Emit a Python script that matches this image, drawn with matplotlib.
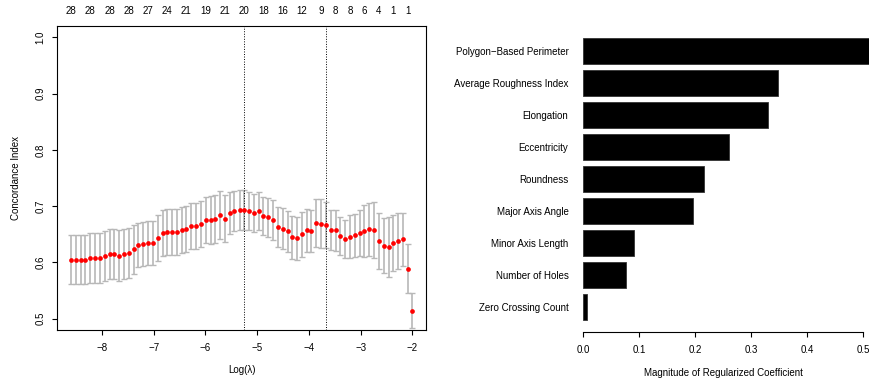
import matplotlib
matplotlib.use("Agg")
import matplotlib.pyplot as plt
import numpy as np

plt.rcParams['font.family'] = ['Liberation Sans', 'DejaVu Sans']

# cross-validation curve (log lambda, mean C-index, its SE)
log_lambda = [-8.60, -8.51, -8.41, -8.32, -8.23, -8.13, -8.04, -7.95, -7.85, -7.76,
              -7.67, -7.58, -7.48, -7.39, -7.30, -7.20, -7.11, -7.02, -6.92, -6.83,
              -6.74, -6.65, -6.55, -6.46, -6.37, -6.27, -6.18, -6.09, -5.99, -5.90,
              -5.81, -5.72, -5.62, -5.53, -5.44, -5.34, -5.25, -5.16, -5.06, -4.97,
              -4.88, -4.79, -4.69, -4.60, -4.51, -4.41, -4.32, -4.23, -4.13, -4.04,
              -3.95, -3.86, -3.76, -3.67, -3.58, -3.48, -3.39, -3.30, -3.20, -3.11,
              -3.02, -2.93, -2.83, -2.74, -2.65, -2.55, -2.46, -2.37, -2.27, -2.18,
              -2.09, -2.00]
cindex = [0.605, 0.605, 0.605, 0.605, 0.608, 0.608, 0.608, 0.611, 0.615, 0.615,
          0.612, 0.615, 0.617, 0.623, 0.631, 0.632, 0.635, 0.635, 0.644, 0.652,
          0.654, 0.654, 0.654, 0.658, 0.660, 0.664, 0.664, 0.669, 0.675, 0.675,
          0.677, 0.684, 0.678, 0.688, 0.691, 0.693, 0.693, 0.691, 0.688, 0.691,
          0.682, 0.680, 0.675, 0.663, 0.660, 0.655, 0.645, 0.643, 0.650, 0.657,
          0.656, 0.670, 0.669, 0.666, 0.658, 0.657, 0.647, 0.642, 0.646, 0.648,
          0.652, 0.656, 0.659, 0.658, 0.638, 0.630, 0.628, 0.634, 0.638, 0.641,
          0.589, 0.514]
cindex_se = [0.044, 0.044, 0.044, 0.044, 0.044, 0.044, 0.044, 0.044, 0.045, 0.045,
             0.045, 0.045, 0.045, 0.043, 0.039, 0.039, 0.039, 0.039, 0.041, 0.041,
             0.041, 0.041, 0.041, 0.041, 0.041, 0.041, 0.041, 0.041, 0.041, 0.043,
             0.043, 0.043, 0.041, 0.038, 0.036, 0.036, 0.036, 0.034, 0.034, 0.034,
             0.034, 0.034, 0.036, 0.036, 0.036, 0.036, 0.038, 0.038, 0.040, 0.038,
             0.038, 0.043, 0.043, 0.041, 0.036, 0.036, 0.034, 0.034, 0.038, 0.038,
             0.041, 0.046, 0.047, 0.050, 0.050, 0.049, 0.053, 0.050, 0.049, 0.047,
             0.044, 0.031]
lambda_min = -5.25
lambda_1se = -3.67

# number of nonzero coefficients shown on top
nz_at = [-8.60, -8.23, -7.85, -7.48, -7.11, -6.74, -6.37, -5.99, -5.62, -5.25,
         -4.88, -4.51, -4.13, -3.76, -3.48, -3.20, -2.93, -2.65, -2.37, -2.09]
nz_labels = ['28', '28', '28', '28', '27', '24', '21', '19', '21', '20',
             '18', '16', '12', '9', '8', '8', '6', '4', '1', '1']

# coefficient magnitudes, top to bottom
features = ['Polygon\u2212Based Perimeter', 'Average Roughness Index', 'Elongation',
            'Eccentricity', 'Roundness', 'Major Axis Angle', 'Minor Axis Length',
            'Number of Holes', 'Zero Crossing Count']
coef_mag = [0.511, 0.348, 0.329, 0.261, 0.215, 0.196, 0.090, 0.077, 0.006]

fig = plt.figure(figsize=(8.7, 3.81), dpi=100)
fs = 7

# ---- left panel
ax = fig.add_axes([57.3 / 870, 1 - 330 / 381, (426 - 57.3) / 870, (330 - 26) / 381])
x = np.array(log_lambda)
y = np.array(cindex)
se = np.array(cindex_se)
ax.errorbar(x, y, yerr=se, fmt='none', ecolor='#B8B8B8', elinewidth=1.2,
            capsize=2.5, capthick=1.0, zorder=1)
ax.plot(x, y, 'o', color='red', markersize=3.4, markeredgewidth=0, zorder=3)
ax.axvline(lambda_min, color='black', linestyle=(0, (1, 1.6)), linewidth=0.7)
ax.axvline(lambda_1se, color='black', linestyle=(0, (1, 1.6)), linewidth=0.7)
ax.set_xlim(-8.864, -1.736)
ax.set_ylim(0.48, 1.02)
ax.set_xticks([-8, -7, -6, -5, -4, -3, -2])
ax.set_xticklabels(['\u22128', '\u22127', '\u22126', '\u22125', '\u22124', '\u22123', '\u22122'])
ax.set_yticks([0.5, 0.6, 0.7, 0.8, 0.9, 1.0])
ax.set_yticklabels(['0.5', '0.6', '0.7', '0.8', '0.9', '1.0'], rotation=90, va='center')
ax.tick_params(axis='both', length=3.6, width=0.8, labelsize=fs)
ax.tick_params(axis='x', pad=6)
ax.tick_params(axis='y', pad=5)
for s in ax.spines.values():
    s.set_linewidth(0.8)
ax.set_xlabel('Log(\u03bb)', fontsize=fs, va='center')
ax.xaxis.set_label_coords(0.5, (330 - 370) / 304)
ax.set_ylabel('Concordance Index', fontsize=fs, va='center')
ax.yaxis.set_label_coords((16 - 57.3) / 368.7, 0.5)

top = ax.secondary_xaxis('top')
top.set_xticks(nz_at)
top.set_xticklabels(nz_labels)
top.tick_params(length=0, labelsize=fs, pad=7.5)
top.spines['top'].set_visible(False)

# ---- right panel
xl = (-0.0204, 0.531)
ax2 = fig.add_axes([571.9 / 870, 1 - 331.6 / 381, (880.7 - 571.9) / 870, (331.6 - 26.3) / 381])
n = len(features)
pos = 0.7 + 1.2 * np.arange(n)[::-1]
ax2.barh(pos, coef_mag, height=1.0, left=0, color='black', edgecolor='#333333', linewidth=0.6)
ax2.set_xlim(*xl)
ax2.set_ylim(-0.224, 11.224)
ax2.set_yticks(pos)
ax2.set_yticklabels(features)
ax2.tick_params(axis='y', length=0, labelsize=fs, pad=2.5)
ax2.set_xticks([0.0, 0.1, 0.2, 0.3, 0.4, 0.5])
ax2.set_xticklabels(['0.0', '0.1', '0.2', '0.3', '0.4', '0.5'])
ax2.tick_params(axis='x', length=3.6, width=0.8, labelsize=fs, pad=6)
for k in ['top', 'right', 'left']:
    ax2.spines[k].set_visible(False)
ax2.spines['bottom'].set_bounds(0, 0.5)
ax2.spines['bottom'].set_linewidth(0.8)
ax2.set_xlabel('Magnitude of Regularized Coefficient', fontsize=fs, va='center')
ax2.xaxis.set_label_coords((0.25 - xl[0]) / (xl[1] - xl[0]), (331.6 - 373) / 305.3)

fig.savefig('out.png', dpi=100)
